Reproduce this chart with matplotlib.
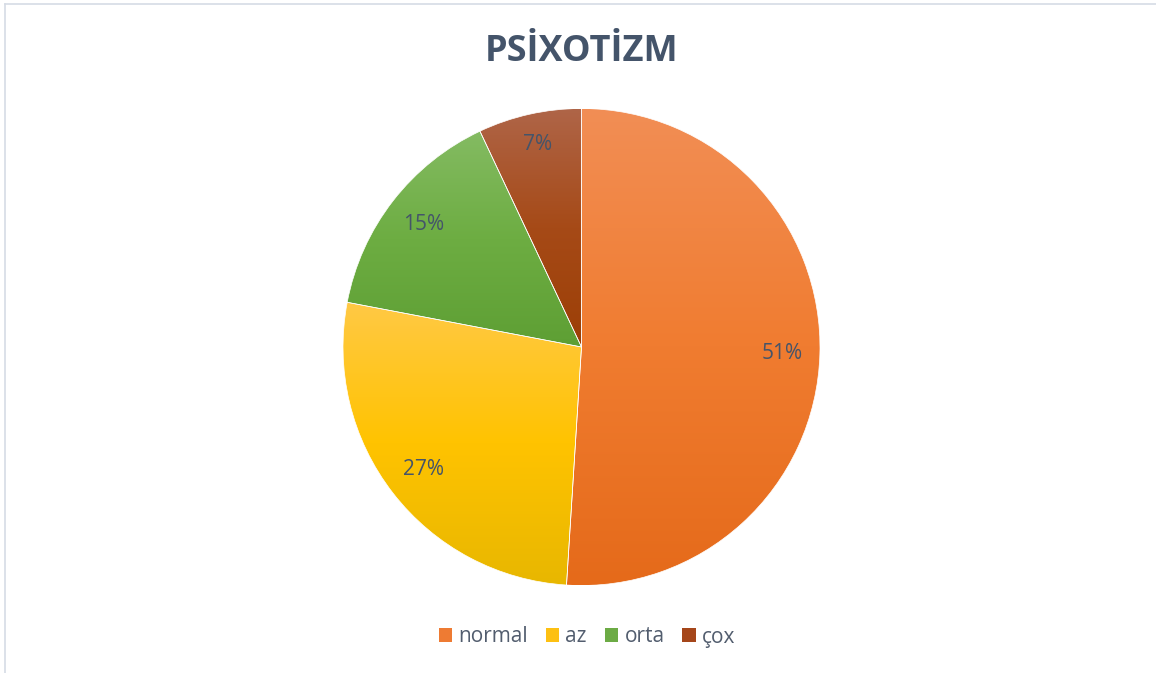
import matplotlib
matplotlib.use("Agg")
import matplotlib.pyplot as plt
import numpy as np
from matplotlib.colors import LinearSegmentedColormap
from matplotlib.patches import Patch
from matplotlib.lines import Line2D

title = "PSİXOTİZM"
categories = ["normal", "az", "orta", "çox"]
shares = [51, 27, 15, 7]

# excel-like gradient stops per slice: top, middle, bottom
grads = [
    ("#F28E55", "#F07C30", "#E56A1A"),
    ("#FFC945", "#FFC300", "#E8B700"),
    ("#84BB62", "#6DAD42", "#5E9F34"),
    ("#AF6548", "#A64A17", "#9C3F06"),
]
legend_colors = ["#EE7B33", "#FDC012", "#6CAB45", "#A5461A"]

W, H = 1156, 673
fig = plt.figure(figsize=(W / 100, H / 100), dpi=100)

cx, cy, R = 581.5, 673 - 347, 238.5
ax = fig.add_axes([(cx - R) / W, (cy - R) / H, 2 * R / W, 2 * R / H])

wedges, texts, autotexts = ax.pie(
    shares, startangle=90, counterclock=False, radius=1,
    autopct="%.0f%%", pctdistance=0.84,
    wedgeprops=dict(linewidth=0.5, edgecolor="white"),
    textprops=dict(color="#44546A", fontsize=15, family="Open Sans"),
)
ax.axis("off")

grad = np.linspace(0, 1, 256).reshape(-1, 1)
for w, stops in zip(wedges, grads):
    bb = w.get_path().get_extents()
    cmap = LinearSegmentedColormap.from_list("g", list(stops))
    w.set_facecolor("none")
    im = ax.imshow(grad, cmap=cmap, extent=[bb.x0, bb.x1, bb.y0, bb.y1],
                   origin="upper", aspect="auto", interpolation="bilinear", zorder=0)
    im.set_clip_path(w)
for t in autotexts:
    t.set_zorder(5)
autotexts[3].set_y(autotexts[3].get_position()[1] + 0.03)
ax.set_xlim(-1, 1)
ax.set_ylim(-1, 1)
ax.set_aspect("auto")

fig.text(582 / W, 1 - 52 / H, title, ha="center", va="center",
         fontsize=26, fontweight="bold", color="#44546A", family="Open Sans")

handles = [Patch(facecolor=c, edgecolor="none") for c in legend_colors]
fig.legend(handles, categories, loc="center", bbox_to_anchor=(587 / W, 1 - 637 / H),
           ncol=4, frameon=False, handlelength=0.65, handleheight=0.65,
           handletextpad=0.3, columnspacing=0.85,
           prop=dict(family="Open Sans", size=15), labelcolor="#525D6E")

# faint chart-area border (left and top)
fig.add_artist(Line2D([5 / W, 5 / W], [0, 1 - 4 / H], color="#D6DCE5", lw=1.2))
fig.add_artist(Line2D([5 / W, 1], [1 - 4 / H, 1 - 4 / H], color="#D6DCE5", lw=1.2))

fig.savefig("out.png", dpi=100, facecolor="white")
